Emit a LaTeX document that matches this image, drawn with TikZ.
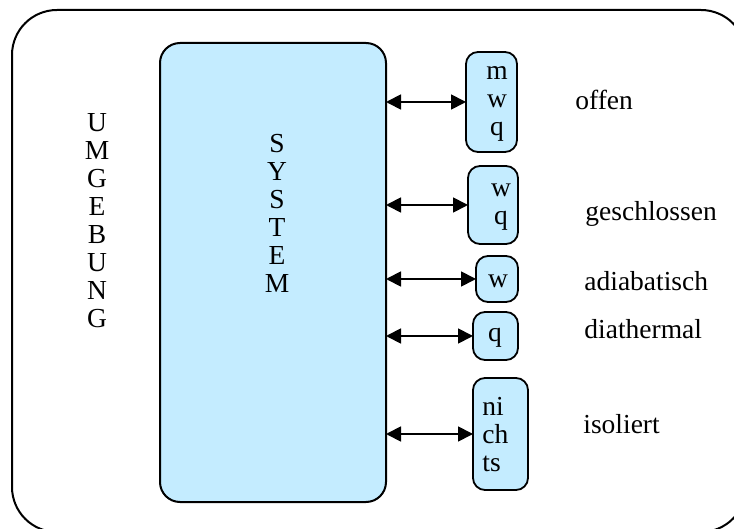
\documentclass[tikz,border=0pt]{standalone}
\usepackage{fontspec}
\setmainfont{Liberation Serif}
\usetikzlibrary{arrows.meta}
\definecolor{paleblue}{RGB}{196,236,255}
\tikzset{
  frame/.style={draw=black, line width=1pt, rounded corners=22.5pt},
  sysbox/.style={draw=black, fill=paleblue, line width=1pt, rounded corners=10pt,
    rectangle, outer sep=0pt, inner sep=0pt},
  smallbox/.style={draw=black, fill=paleblue, line width=0.9pt, rounded corners=6pt,
    rectangle, outer sep=0pt, inner sep=0pt},
  stack/.style={align=center, inner sep=0pt, font=\fontsize{13.75pt}{14pt}\selectfont},
  lefttext/.style={align=left, inner sep=0pt, font=\fontsize{13.75pt}{14pt}\selectfont},
  caption/.style={anchor=base west, inner sep=0pt, font=\fontsize{13.75pt}{14pt}\selectfont},
  link/.style={line width=0.9pt, {Triangle[length=7.5pt,width=7.5pt]}-{Triangle[length=7.5pt,width=7.5pt]}}
}
\begin{document}
\begin{tikzpicture}[x=0.5pt, y=-0.5pt]
  \useasboundingbox (0,0) rectangle (734,529);
  \begin{scope}
    \clip (0,0) rectangle (734,529);
    % surroundings
    \draw[frame] (12,10) rectangle (746,532);
  \end{scope}
  \node[stack] (umg) at (97,221) {U\\M\\G\\E\\B\\U\\N\\G};

  % the system
  \node[sysbox, minimum width=113pt, minimum height=229.5pt] (sys) at (273,272.5) {};
  \node[stack] (systxt) at (277,213) {S\\Y\\S\\T\\E\\M};

  % exchange boxes
  \node[smallbox, minimum width=25.5pt, minimum height=50pt] (bmwq) at (491.5,102) {};
  \node[stack] (tmwq) at (497,104) {m\\w\\q};
  \node[smallbox, minimum width=25pt, minimum height=39pt] (bwq) at (493,205) {};
  \node[stack] (twq) at (501,207) {w\\q};
  \node[smallbox, minimum width=21pt, minimum height=23pt] (bw) at (497,279) {};
  \node[stack] (tw) at (498,281) {w};
  \node[smallbox, minimum width=22.5pt, minimum height=24pt] (bq) at (495.5,336) {};
  \node[stack] (tq) at (495,338) {q};
  \node[smallbox, minimum width=27.5pt, minimum height=56pt] (bn) at (500.5,434) {};
  \node[lefttext, anchor=west] (tn) at (482,435) {ni\\ch\\ts};

  % exchange arrows
  \draw[link] (sys.east |- bmwq.west) -- (bmwq.west);
  \draw[link] (sys.east |- bwq.west) -- (bwq.west);
  \draw[link] (sys.east |- bw.west) -- (bw.west);
  \draw[link] (sys.east |- bq.west) -- (bq.west);
  \draw[link] (sys.east |- bn.west) -- (bn.west);

  % system types
  \node[caption] (coffen) at (575,110) {offen};
  \node[caption] (cgeschl) at (585,221) {geschlossen};
  \node[caption] (cadia) at (584,291) {adiabatisch};
  \node[caption] (cdia) at (584,339) {diathermal};
  \node[caption] (ciso) at (583,433) {isoliert};
\end{tikzpicture}
\end{document}
